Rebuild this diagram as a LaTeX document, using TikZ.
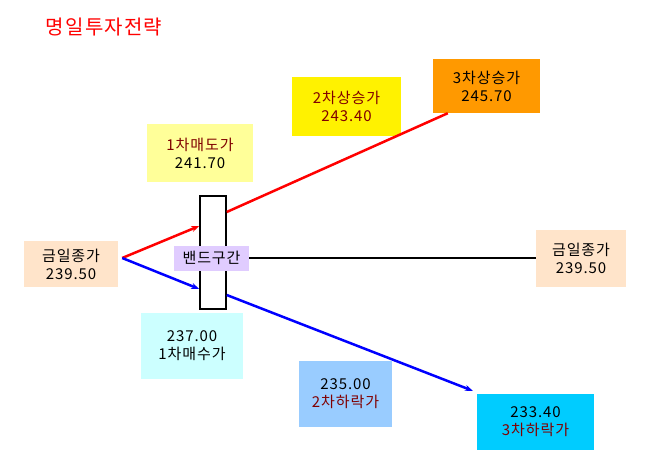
\documentclass[tikz,border=0pt]{standalone}
\usepackage{fontspec}
\setmainfont{Noto Sans CJK KR}
\newfontfamily\boxfont[LetterSpace=6]{Noto Sans CJK KR}
\usetikzlibrary{positioning,arrows.meta}
\definecolor{peach}{RGB}{255,228,202}
\definecolor{paleyellow}{RGB}{255,255,153}
\definecolor{lavender}{RGB}{224,204,255}
\definecolor{palecyan}{RGB}{204,255,255}
\definecolor{skyblue}{RGB}{153,204,255}
\definecolor{deepcyan}{RGB}{0,204,255}
\definecolor{orange}{RGB}{255,153,0}
\definecolor{darkred}{RGB}{128,0,0}

\begin{document}
\begin{tikzpicture}[
        x=1pt, y=-1pt, % one unit is one pixel of the reference, y runs down
        % Define a style for the price boxes
        price_box/.style={rectangle,inner sep=0pt,align=center,
            font=\boxfont\fontsize{15}{18}\selectfont},
        % Define styles for the rising and falling paths
        up_line/.style={red,line width=2.5pt},
        down_line/.style={blue,line width=2.5pt}
    ]

    % Fix the page to the size of the reference
    \useasboundingbox (0,0) rectangle (655,468);

    % Title
    \node[red,font=\boxfont\fontsize{20}{22}\selectfont] (title) at (104,27) {명일투자전략};

    % Today's close, on both sides
    \node[price_box,fill=peach,minimum width=94pt,minimum height=46pt] (close_left) at (71,264) {금일종가\\239.50};
    \node[price_box,fill=peach,minimum width=90pt,minimum height=57pt] (close_right) at (581,258) {금일종가\\239.50};

    % The band and its label
    \node[draw,line width=1.5pt,fill=white,minimum width=26pt,minimum height=113pt] (band) at (213,252.5) {};
    \node[price_box,fill=lavender,minimum width=75pt,minimum height=25pt] (band_label) at (211.5,258) {밴드구간};

    % Rising prices
    \node[price_box,fill=paleyellow,minimum width=106pt,minimum height=58pt] (sell1) at (200,153) {\textcolor{darkred}{1차매도가}\\241.70};
    \node[price_box,fill=yellow,text=darkred,minimum width=109pt,minimum height=59pt] (up2) at (346.5,106.5) {2차상승가\\243.40};
    \node[price_box,fill=orange,minimum width=107pt,minimum height=54pt] (up3) at (486.5,86) {3차상승가\\245.70};

    % Falling prices
    \node[price_box,fill=palecyan,minimum width=102pt,minimum height=66pt] (buy1) at (192,346) {237.00\\1차매수가};
    \node[price_box,fill=skyblue,minimum width=93pt,minimum height=66pt] (down2) at (345.5,394) {235.00\\\textcolor{darkred}{2차하락가}};
    \node[price_box,fill=deepcyan,minimum width=117pt,minimum height=56pt] (down3) at (535.5,422) {233.40\\\textcolor{darkred}{3차하락가}};

    % Points where the paths meet the band
    \coordinate (fork) at ([xshift=4pt,yshift=6pt]close_left.east);
    \coordinate (band_in_up) at ([yshift=26.5pt]band.west);
    \coordinate (band_in_down) at ([yshift=-36.5pt]band.west);
    \coordinate (band_out_up) at ([yshift=40.5pt]band.east);
    \coordinate (band_out_down) at ([yshift=-42.5pt]band.east);

    % Paths into the band
    \draw[up_line,-{Stealth[length=8pt,width=6pt]}] (fork) -- (band_in_up);
    \draw[down_line,-{Stealth[length=8pt,width=6pt]}] (fork) -- (band_in_down);

    % Paths out of the band
    \draw[up_line] (band_out_up) -- ([xshift=15pt]up3.south west);
    \draw[down_line,-{Stealth[length=8pt,width=6pt]}] (band_out_down) -- ([xshift=-4pt,yshift=3pt]down3.north west);

    % Flat line to today's close
    \draw[line width=2pt] (band_label.east) -- (close_right.west);

\end{tikzpicture}
\end{document}
